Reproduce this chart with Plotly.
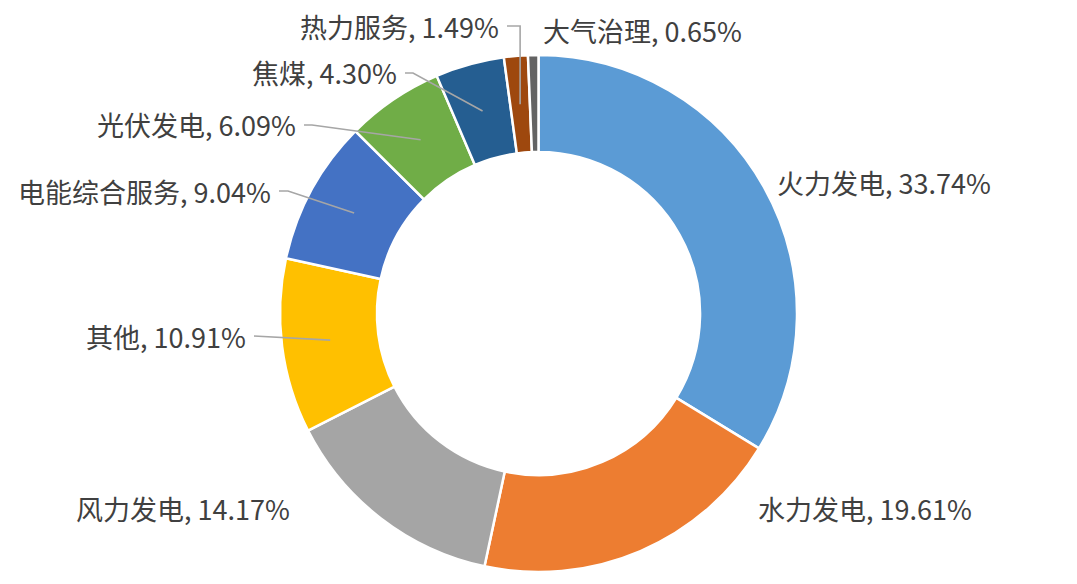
import math

import plotly.graph_objects as go

W, H = 1077, 584
PAGE = 8  # default body margin of the html page

categories = ["火力发电", "水力发电", "风力发电", "其他", "电能综合服务",
              "光伏发电", "焦煤", "热力服务", "大气治理"]
shares = [33.74, 19.61, 14.17, 10.91, 9.04, 6.09, 4.30, 1.49, 0.65]
colors = ["#5B9BD5", "#ED7D31", "#A5A5A5", "#FFC000", "#4472C4",
          "#70AD47", "#255E91", "#9E480E", "#636363"]

# label placement in screen pixels: (anchor x, centre y, side, has leader line, elbow)
label_pos = {
    "火力发电": (776, 183, "left", False, None),
    "水力发电": (757, 508, "left", False, None),
    "风力发电": (291, 508, "right", False, None),
    "其他": (247, 336, "right", True, 0),
    "电能综合服务": (272, 191, "right", True, 9),
    "光伏发电": (297, 125, "right", True, 8),
    "焦煤": (398, 73, "right", True, 8),
    "热力服务": (500, 26, "right", True, "tip"),
    "大气治理": (542, 30, "left", False, None),
}

CX, CY, R = 538.5, 313.5, 258.5
HOLE = 0.625
FONT = "Noto Sans CJK SC"


def px(x, y):
    return (x - PAGE) / W, 1 - (y - PAGE) / H


fig = go.Figure()
x0, y1 = px(CX - R, CY - R)
x1, y0 = px(CX + R, CY + R)
fig.add_trace(
    go.Pie(
        labels=categories,
        values=shares,
        hole=HOLE,
        sort=False,
        direction="clockwise",
        rotation=0,
        textinfo="none",
        marker=dict(colors=colors, line=dict(color="white", width=2.5)),
        domain=dict(x=[x0, x1], y=[y0, y1]),
    )
)

total = sum(shares)
cum = 0.0
shapes = []
annotations = []
for name, v in zip(categories, shares):
    theta = 2 * math.pi * (cum + v / 2) / total
    cum += v
    rt = R * (1 + HOLE) / 2
    tx = CX + rt * math.sin(theta)
    ty = CY - rt * math.cos(theta)

    lx, ly, side, line, elbow = label_pos[name]
    ax, ay = px(lx, ly)
    annotations.append(dict(
        x=ax, y=ay, xref="paper", yref="paper",
        text=f"{name}, {v:.2f}%", showarrow=False, borderpad=0,
        xanchor="right" if side == "right" else "left", yanchor="middle",
        font=dict(family=FONT, size=27, color="#404040"),
    ))
    if line:
        sx = lx + 7
        ex = tx if elbow == "tip" else sx + elbow
        pts = [px(sx, ly), px(ex, ly), px(tx, ty)]
        path = "M {} {} L {} {} L {} {}".format(*[c for p in pts for c in p])
        shapes.append(dict(type="path", path=path, xref="paper", yref="paper",
                           line=dict(color="#A6A6A6", width=1.6)))

fig.update_layout(
    width=W, height=H,
    margin=dict(l=0, r=0, t=0, b=0),
    paper_bgcolor="white",
    showlegend=False,
    shapes=shapes,
    annotations=annotations,
)

fig.write_html("out.html")
